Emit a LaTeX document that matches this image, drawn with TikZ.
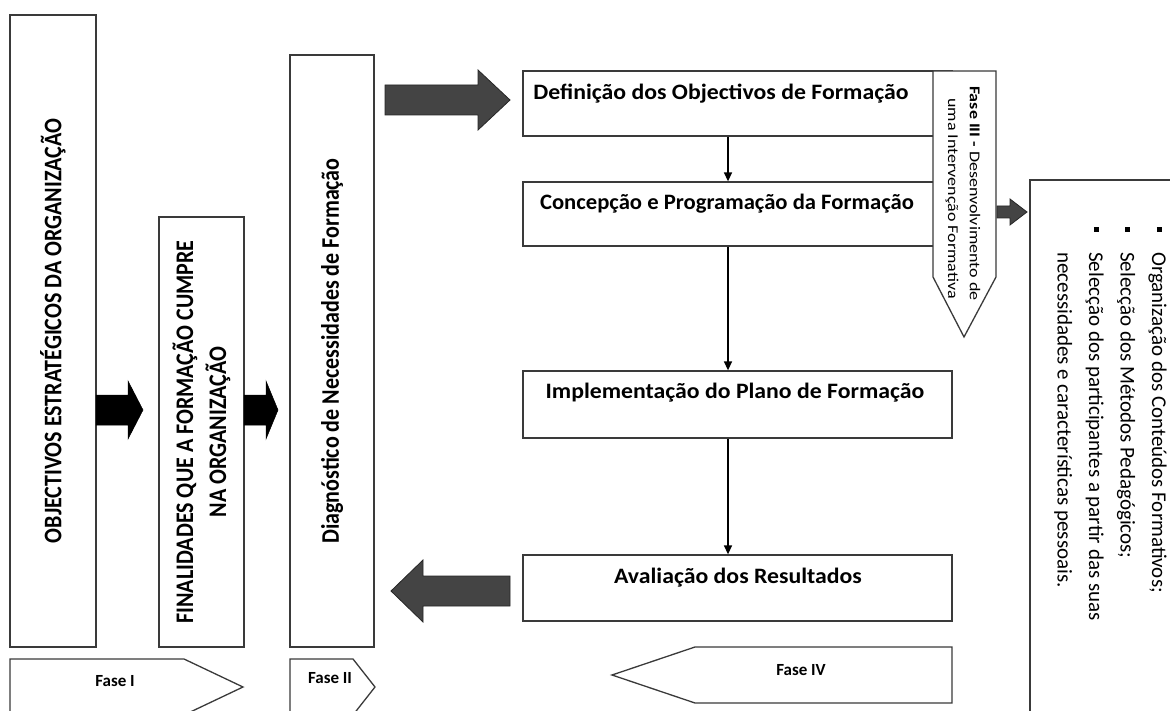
\documentclass[tikz,border=0pt]{standalone}
\usepackage{fontspec}
\usepackage{graphicx}
\setmainfont{Carlito}
\usetikzlibrary{arrows.meta}
\definecolor{lin}{HTML}{3A3A3A}
\definecolor{arr}{HTML}{444444}
\newcommand{\hwide}[1]{\scalebox{1.08}[1]{#1}}
\newcommand{\hwideb}[1]{\scalebox{1.03}[1]{#1}}
\newcommand{\vwide}[1]{\scalebox{1}[1.15]{#1}}
\newcommand{\fwide}[1]{\scalebox{1.2}[1]{#1}}
\begin{document}
\begin{tikzpicture}[x=1pt,y=-1pt,
  box/.style={draw=lin, line width=1.3pt, fill=white, inner sep=0pt},
  vbox/.style={box, rotate=90, font=\fontsize{22}{33}\bfseries\selectfont, align=center},
  btext/.style={font=\fontsize{22}{26}\bfseries\selectfont, inner sep=0pt},
  fasetext/.style={font=\fontsize{17}{20}\bfseries\selectfont, inner sep=0pt},
  shapeline/.style={draw=lin, line width=1.3pt, fill=white},
  garrow/.style={fill=arr, draw=black!85, line width=0.8pt},
  barrow/.style={fill=black, draw=black, line width=0.5pt},
  flow/.style={draw=black, line width=1.4pt, -{Triangle[length=9pt,width=8pt]}}]
\useasboundingbox (0,0) rectangle (1170,711);
\clip (0,0) rectangle (1170,711);

% left vertical boxes
\node[vbox, minimum width=632, minimum height=86] (obj) at (53,331) {\vwide{OBJECTIVOS ESTRATÉGICOS DA ORGANIZAÇÃO}};
\node[vbox, minimum width=430, minimum height=85] (fin) at (201.5,432) {\vwide{FINALIDADES QUE A FORMAÇÃO CUMPRE}\\\vwide{NA ORGANIZAÇÃO}};
\node[vbox, minimum width=592, minimum height=84] (diag) at (332,351) {\vwide{Diagnóstico de Necessidades de Formação}};

% black block arrows
\path[barrow] (96,395) -- (128,395) -- (128,381) -- (143,410) -- (128,439) -- (128,425) -- (96,425) -- cycle;
\path[barrow] (244,395) -- (266,395) -- (266,381) -- (278,410) -- (266,439) -- (266,425) -- (244,425) -- cycle;

% flow boxes
\node[box, minimum width=429, minimum height=65] (def) at (737.5,103.5) {};
\node[btext] (deft) at (721,94) {\hwide{Definição dos Objectivos de Formação}};
\node[box, minimum width=429, minimum height=64] (conc) at (737.5,214) {};
\node[btext] (conct) at (727,204) {\hwideb{Concepção e Programação da Formação}};
\node[box, minimum width=429, minimum height=67] (impl) at (737.5,404.5) {};
\node[btext] (implt) at (735,393) {\hwide{Implementação do Plano de Formação}};
\node[box, minimum width=429, minimum height=66] (aval) at (737.5,588) {};
\node[btext] (avalt) at (738,578) {\hwide{Avaliação dos Resultados}};

\coordinate (c1) at (728,0);
\draw[flow] (c1 |- def.south) -- (c1 |- conc.north);
\draw[flow] (c1 |- conc.south) -- (c1 |- impl.north);
\draw[flow] (c1 |- impl.south) -- (c1 |- aval.north);

% gray block arrows
\path[garrow] (385,85) -- (478,85) -- (478,70) -- (510,100) -- (478,130) -- (478,115) -- (385,115) -- cycle;
\path[garrow] (510,576) -- (423,576) -- (423,560) -- (391,591) -- (423,622) -- (423,606) -- (510,606) -- cycle;

% Fase III
\path[shapeline] (933,71) -- (996,71) -- (996,277) -- (964,337) -- (933,277) -- cycle;
\node[rotate=-90, anchor=west, inner sep=0pt, font=\fontsize{15}{18}\selectfont] (f3a) at (975,86) {\fwide{\textbf{Fase III -} Desenvolvimento de}};
\node[rotate=-90, anchor=west, inner sep=0pt, font=\fontsize{15}{18}\selectfont] (f3b) at (952,98) {\fwide{uma Intervenção Formativa}};

% small arrow to right box
\path[garrow] (997,206) -- (1010,206) -- (1010,199) -- (1027,212) -- (1010,225) -- (1010,218) -- (997,218) -- cycle;

% right box
\path[shapeline] (1030,725) -- (1030,180) -- (1185,180);
\node[rotate=-90, anchor=north west, align=left, inner sep=0pt, font=\fontsize{21}{31.5}\selectfont] (list) at (1167,227)
 {\makebox[25pt][l]{\rule[0.22em]{5pt}{5pt}}Organização dos Conteúdos Formativos;\\
  \makebox[25pt][l]{\rule[0.22em]{5pt}{5pt}}Selecção dos Métodos Pedagógicos;\\
  \makebox[25pt][l]{\rule[0.22em]{5pt}{5pt}}Selecção dos participantes a partir das suas\\
  \makebox[25pt][l]{}necessidades e características pessoais.};

% phase labels
\path[shapeline] (10,725) -- (10,659) -- (184,659) -- (243,687) -- (184,715);
\node[fasetext] (f1) at (115,681) {Fase I};
\path[shapeline] (290,725) -- (290,659) -- (353,659) -- (375,687) -- (353,715);
\node[fasetext] (f2) at (330,678) {Fase II};
\path[shapeline] (612,675) -- (695,647) -- (952,647) -- (952,703) -- (695,703) -- cycle;
\node[fasetext] (f4) at (801,670) {Fase IV};
\end{tikzpicture}
\end{document}
